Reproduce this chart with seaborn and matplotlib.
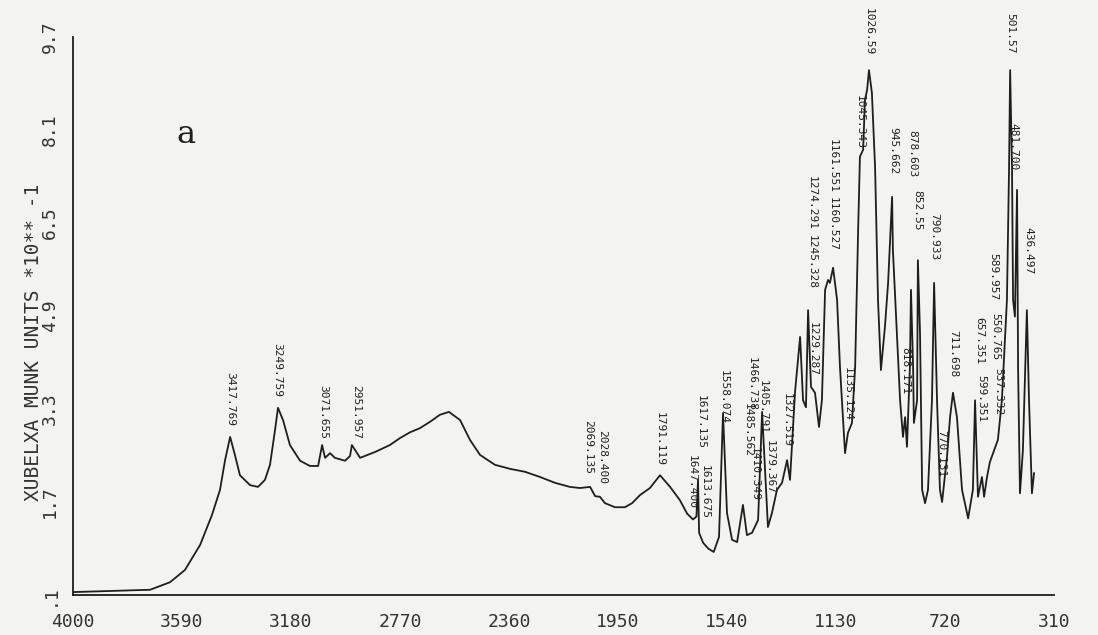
import matplotlib
matplotlib.use("Agg")
import matplotlib.pyplot as plt
import seaborn as sns
import pandas as pd

# spectrum (wavenumber, Kubelka-Munk units)
wavenumber = [4000, 3710, 3635, 3579, 3522, 3477, 3447, 3428, 3409, 3391, 3372, 3334, 3304, 3278,
              3259, 3240, 3229, 3210, 3184, 3146, 3109, 3078, 3063, 3052, 3033, 3015, 2977, 2958,
              2951, 2920, 2864, 2808, 2770, 2732, 2695, 2657, 2620, 2586, 2544, 2507, 2469, 2413,
              2356, 2300, 2243, 2187, 2131, 2093, 2055, 2036, 2018, 1999, 1961, 1924, 1897, 1867,
              1830, 1792, 1754, 1717, 1690, 1668, 1655, 1649, 1645, 1630, 1611, 1590, 1570, 1555,
              1540, 1521, 1502, 1480, 1465, 1446, 1423, 1408, 1386, 1371, 1352, 1333, 1314, 1303,
              1284, 1265, 1254, 1243, 1235, 1224, 1209, 1194, 1183, 1171, 1160, 1153, 1141, 1126,
              1115, 1096, 1085, 1070, 1058, 1047, 1040, 1028, 1021, 1013, 1006, 995, 983, 972,
              961, 946, 934, 919, 916, 901, 889, 878, 870, 863, 852, 848, 840, 837, 825, 822, 814,
              806, 795, 784, 769, 761, 750, 739, 731, 712, 701, 690, 675, 656, 633, 615, 607, 596,
              581, 573, 562, 551, 539, 521, 506, 487, 479, 475, 468, 464, 457, 449, 445, 438, 427,
              412, 404, 393, 385]
km_units = [0.15, 0.19, 0.32, 0.53, 0.96, 1.48, 1.91, 2.42, 2.82, 2.51, 2.16, 1.99, 1.96, 2.08,
            2.34, 2.94, 3.32, 3.11, 2.68, 2.41, 2.32, 2.32, 2.68, 2.46, 2.54, 2.46, 2.41, 2.49,
            2.68, 2.46, 2.56, 2.68, 2.80, 2.90, 2.97, 3.08, 3.20, 3.25, 3.11, 2.77, 2.51, 2.34,
            2.27, 2.22, 2.13, 2.03, 1.96, 1.94, 1.96, 1.80, 1.79, 1.68, 1.61, 1.61, 1.68, 1.82,
            1.94, 2.16, 1.96, 1.73, 1.50, 1.40, 1.45, 2.08, 1.17, 1.00, 0.90, 0.84, 1.10, 3.23,
            1.51, 1.05, 1.01, 1.65, 1.13, 1.17, 1.39, 3.25, 1.27, 1.51, 1.91, 2.03, 2.42, 2.08,
            3.60, 4.54, 3.45, 3.33, 5.00, 3.68, 3.58, 2.99, 3.45, 5.35, 5.52, 5.47, 5.73, 5.18,
            4.02, 2.54, 2.89, 3.06, 4.02, 6.33, 7.64, 7.76, 8.62, 8.79, 9.13, 8.74, 7.46, 5.18,
            3.97, 4.71, 5.47, 6.95, 6.04, 4.61, 3.45, 2.82, 3.16, 2.65, 4.02, 5.35, 4.02, 3.06,
            3.45, 5.86, 4.61, 1.91, 1.68, 1.91, 3.45, 5.47, 3.45, 1.91, 1.70, 2.50, 3.16, 3.58,
            3.16, 1.91, 1.42, 1.91, 3.45, 1.79, 2.13, 1.79, 2.13, 2.39, 2.54, 2.77, 3.45, 5.18,
            7.46, 9.13, 7.46, 5.18, 4.89, 7.07, 3.97, 1.85, 2.59, 5.00, 3.45, 1.85, 2.20]

# peak annotations: text, wavenumber position, top of the label
peak_labels = ["3417.769", "3249.759", "3071.655", "2951.957", "2069.135", "2028.400",
               "1791.119", "1647.400", "1617.135", "1613.675", "1558.074", "1466.738",
               "1485.562", "1410.349", "1405.791", "1379.367", "1327.519", "1274.291",
               "1245.328", "1229.287", "1161.551", "1160.527", "1135.124", "1045.343",
               "1026.59", "945.662", "878.603", "852.55", "790.933", "818.171", "770.131",
               "711.698", "657.351", "599.351", "589.957", "550.765", "537.332", "501.57",
               "481.700", "436.497"]
label_wn = [3409, 3233, 3060, 2935, 2062, 2008, 1792, 1672, 1638, 1623, 1551, 1446, 1461, 1435,
            1405, 1378, 1314, 1220, 1220, 1217, 1141, 1141, 1085, 1040, 1006, 916, 844, 825,
            761, 870, 735, 690, 592, 585, 539, 532, 521, 475, 464, 408]
label_top = [3.94, 4.44, 3.72, 3.72, 3.11, 2.94, 3.25, 2.51, 3.54, 2.34, 3.97, 4.19, 3.40, 2.65,
             3.80, 2.77, 3.58, 7.30, 6.30, 4.80, 7.95, 6.95, 4.02, 8.70, 10.2, 8.15, 8.10, 7.07,
             6.67, 4.37, 2.94, 4.66, 4.88, 3.88, 5.98, 4.95, 4.00, 10.11, 8.22, 6.43]

x_ticks = [4000, 3590, 3180, 2770, 2360, 1950, 1540, 1130, 720, 310]
y_ticks = [0.1, 1.7, 3.3, 4.9, 6.5, 8.1, 9.7]
y_tick_labels = [".1", "1.7", "3.3", "4.9", "6.5", "8.1", "9.7"]

sns.set_style("white")
plt.rcParams["font.family"] = ["DejaVu Sans Mono", "DejaVu Sans"]

paper = "#f3f3f1"
ink = "#1e1e1e"

fig = plt.figure(figsize=(10.98, 6.35), dpi=100, facecolor=paper)
ax = fig.add_axes([73 / 1098, 40 / 635, 981 / 1098, 558 / 635])
ax.set_facecolor(paper)

df = pd.DataFrame({"wavenumber": wavenumber, "km": km_units})
sns.lineplot(data=df, x="wavenumber", y="km", ax=ax, color=ink, linewidth=1.3,
             estimator=None, sort=False)

for txt, wn, top in zip(peak_labels, label_wn, label_top):
    ax.text(wn, top, txt, rotation=270, ha="center", va="top", fontsize=8,
            color=ink, clip_on=False)

ax.set_xlim(4000, 310)
ax.set_ylim(0.1, 9.7)
ax.set_xticks(x_ticks)
ax.set_xticklabels([str(t) for t in x_ticks], fontsize=13, color="#333333")
ax.set_yticks(y_ticks)
ax.set_yticklabels(y_tick_labels, rotation=90, va="center", fontsize=13, color="#333333")
ax.tick_params(axis="both", direction="out", length=7, width=1.2, color=ink)
ax.tick_params(axis="x", pad=6)
ax.tick_params(axis="y", pad=3)

ax.set_xlabel("")
ax.set_ylabel("XUBELXA MUNK UNITS *10** -1", fontsize=14, color="#333333")
ax.yaxis.set_label_coords(-0.031, 0.453)

for side in ["top", "right"]:
    ax.spines[side].set_visible(False)
for side in ["left", "bottom"]:
    ax.spines[side].set_color(ink)
    ax.spines[side].set_linewidth(1.3)

ax.text(0.105, 0.81, "a", transform=ax.transAxes, fontsize=23, family="DejaVu Serif",
        color=ink, va="baseline")

fig.savefig("out.png", dpi=100, facecolor=paper)
